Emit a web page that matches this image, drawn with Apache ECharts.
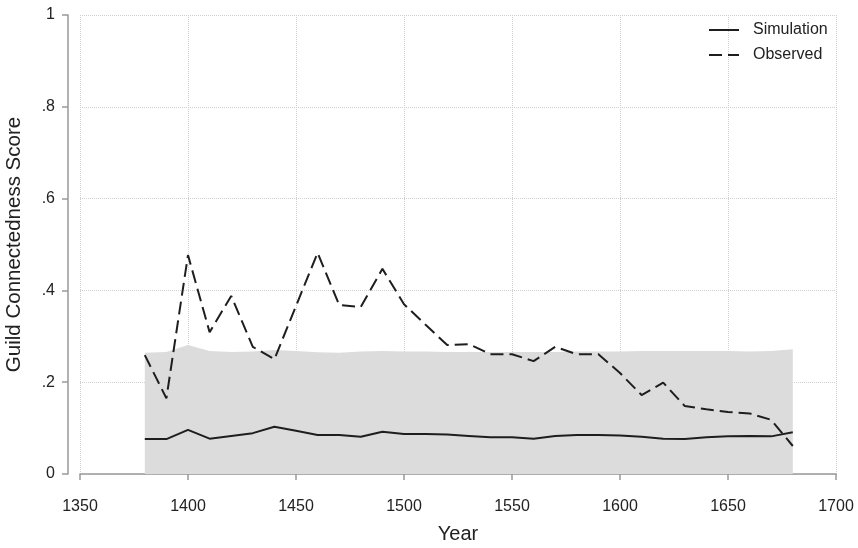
<!DOCTYPE html>
<html>
<head>
<meta charset="utf-8">
<script src="https://cdn.jsdelivr.net/npm/echarts@6/dist/echarts.min.js"></script>
<style>
  html, body { margin: 0; padding: 0; background: #fff; }
  #chart { width: 858px; height: 548px; }
</style>
</head>
<body>
<div id="chart"></div>
<script>
const years = [1380, 1390, 1400, 1410, 1420, 1430, 1440, 1450, 1460, 1470, 1480,
  1490, 1500, 1510, 1520, 1530, 1540, 1550, 1560, 1570, 1580, 1590, 1600,
  1610, 1620, 1630, 1640, 1650, 1660, 1670, 1680]
const observed = [0.259, 0.165, 0.477, 0.309, 0.388, 0.277, 0.250, 0.366, 0.482, 0.368, 0.364,
  0.447, 0.370, 0.325, 0.281, 0.283, 0.261, 0.261, 0.246, 0.277, 0.261, 0.261, 0.220,
  0.172, 0.199, 0.148, 0.141, 0.135, 0.132, 0.118, 0.061]
const simulation = [0.076, 0.076, 0.096, 0.077, 0.083, 0.089, 0.103, 0.094, 0.085, 0.085, 0.081,
  0.092, 0.087, 0.087, 0.086, 0.083, 0.080, 0.080, 0.077, 0.083, 0.085, 0.085, 0.084,
  0.081, 0.077, 0.076, 0.080, 0.082, 0.083, 0.082, 0.091]
const bandUpper = [0.264, 0.266, 0.281, 0.268, 0.266, 0.267, 0.270, 0.268, 0.265, 0.264, 0.267,
  0.268, 0.267, 0.267, 0.266, 0.266, 0.266, 0.266, 0.266, 0.266, 0.267, 0.267, 0.267,
  0.268, 0.268, 0.268, 0.268, 0.268, 0.267, 0.268, 0.272]
const yTickLabels = { 0: '0', 0.2: '.2', 0.4: '.4', 0.6: '.6', 0.8: '.8', 1: '1' }

const pair = (vals) => years.map((y, i) => [y, vals[i]])
const font = 'Liberation Sans, Arial, Helvetica, sans-serif'
const dash = [13, 6]

const chart = echarts.init(document.getElementById('chart'))

const option = {
  animation: false,
  backgroundColor: '#fff',
  grid: { left: 80, right: 22, top: 15, bottom: 74, containLabel: false, outerBoundsMode: 'none' },
  legend: {
    data: [
      { name: 'Simulation', lineStyle: { type: 'solid' } },
      { name: 'Observed', lineStyle: { type: dash } }
    ],
    orient: 'vertical',
    left: 708,
    top: 22,
    padding: 0,
    itemWidth: 30,
    itemHeight: 14,
    itemGap: 9,
    itemStyle: { opacity: 0 },
    textStyle: { fontFamily: font, fontSize: 16, color: '#222', padding: [0, 0, 0, 9] }
  },
  xAxis: {
    type: 'value',
    min: 1350,
    max: 1700,
    interval: 50,
    offset: 14,
    name: 'Year',
    nameLocation: 'middle',
    nameGap: 36,
    nameTextStyle: { fontFamily: font, fontSize: 20, color: '#222' },
    axisLine: { lineStyle: { color: '#999', width: 1.5 } },
    axisTick: { length: 6, lineStyle: { color: '#999', width: 1.5 } },
    axisLabel: { fontFamily: font, fontSize: 16, color: '#222', margin: 11, formatter: (v) => String(v) },
    splitLine: { show: true, lineStyle: { color: '#d0d0d0', type: 'dotted', width: 1 } }
  },
  yAxis: {
    type: 'value',
    min: 0,
    max: 1,
    interval: 0.2,
    offset: 12,
    name: 'Guild Connectedness Score',
    nameLocation: 'middle',
    nameGap: 43,
    nameTextStyle: { fontFamily: font, fontSize: 20.5, color: '#222' },
    axisLine: { show: true, lineStyle: { color: '#999', width: 1.5 } },
    axisTick: { show: true, length: 6, lineStyle: { color: '#999', width: 1.5 } },
    axisLabel: {
      fontFamily: font, fontSize: 16, color: '#222', margin: 13,
      formatter: (v) => yTickLabels[Math.round(v * 10) / 10]
    },
    splitLine: { show: true, lineStyle: { color: '#d0d0d0', type: 'dotted', width: 1 } }
  },
  series: [
    {
      name: 'Band',
      type: 'line',
      data: pair(bandUpper),
      symbol: 'none',
      lineStyle: { width: 0, opacity: 0 },
      areaStyle: { color: '#dcdcdc', opacity: 1, origin: 'start' },
      silent: true,
      z: 1
    },
    {
      name: 'Simulation',
      type: 'line',
      data: pair(simulation),
      symbol: 'none',
      lineStyle: { color: '#1e1e1e', width: 2 },
      itemStyle: { color: '#1e1e1e' },
      z: 3
    },
    {
      name: 'Observed',
      type: 'line',
      data: pair(observed),
      symbol: 'none',
      lineStyle: { color: '#1e1e1e', width: 2, type: dash },
      itemStyle: { color: '#1e1e1e' },
      z: 3
    }
  ]
}

chart.setOption(option)
</script>
</body>
</html>
